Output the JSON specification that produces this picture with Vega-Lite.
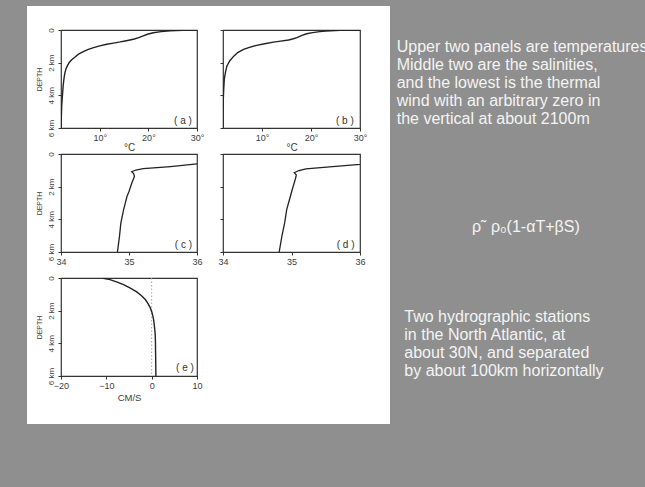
{
  "$schema": "https://vega.github.io/schema/vega-lite/v6.json",
  "background": "#ffffff",
  "padding": 0,
  "spacing": 0,
  "config": {
    "view": {"stroke": null},
    "font": "Liberation Sans",
    "concat": {"spacing": 0},
    "axis": {
      "grid": false, "domain": false, "ticks": true, "tickColor": "#333333", "tickSize": 3, "tickWidth": 1,
      "labelFont": "Liberation Sans", "labelColor": "#3c3c3c", "labelFontSize": 9, "labelPadding": 2,
      "labelFlush": false, "labelBound": false,
      "titleFont": "Liberation Sans", "titleFontWeight": "normal", "titleColor": "#3c3c3c"
    }
  },
  "datasets": {
    "profiles": [
      {"panel": "a", "value": 30, "depth": 0}, {"panel": "a", "value": 27, "depth": 0.015}, {"panel": "a", "value": 24.5, "depth": 0.05},
      {"panel": "a", "value": 22.6, "depth": 0.1}, {"panel": "a", "value": 21, "depth": 0.17}, {"panel": "a", "value": 19.8, "depth": 0.26},
      {"panel": "a", "value": 18.8, "depth": 0.37}, {"panel": "a", "value": 18, "depth": 0.47}, {"panel": "a", "value": 17.1, "depth": 0.55},
      {"panel": "a", "value": 16.2, "depth": 0.61}, {"panel": "a", "value": 15.2, "depth": 0.67}, {"panel": "a", "value": 14.2, "depth": 0.73},
      {"panel": "a", "value": 12.8, "depth": 0.8}, {"panel": "a", "value": 11.4, "depth": 0.87}, {"panel": "a", "value": 10, "depth": 0.97},
      {"panel": "a", "value": 8.7, "depth": 1.08}, {"panel": "a", "value": 7.5, "depth": 1.2}, {"panel": "a", "value": 6.6, "depth": 1.32},
      {"panel": "a", "value": 5.6, "depth": 1.48}, {"panel": "a", "value": 4.9, "depth": 1.65}, {"panel": "a", "value": 4.2, "depth": 1.82},
      {"panel": "a", "value": 3.7, "depth": 1.99}, {"panel": "a", "value": 3.3, "depth": 2.2}, {"panel": "a", "value": 3, "depth": 2.4},
      {"panel": "a", "value": 2.75, "depth": 2.7}, {"panel": "a", "value": 2.6, "depth": 3}, {"panel": "a", "value": 2.45, "depth": 3.4},
      {"panel": "a", "value": 2.35, "depth": 3.8}, {"panel": "a", "value": 2.25, "depth": 4.2}, {"panel": "a", "value": 2.15, "depth": 4.6},
      {"panel": "a", "value": 2.07, "depth": 5.3}, {"panel": "a", "value": 2, "depth": 6},
      {"panel": "b", "value": 30, "depth": 0}, {"panel": "b", "value": 26, "depth": 0.02}, {"panel": "b", "value": 23, "depth": 0.06},
      {"panel": "b", "value": 21.8, "depth": 0.1}, {"panel": "b", "value": 20.3, "depth": 0.16}, {"panel": "b", "value": 19.1, "depth": 0.23},
      {"panel": "b", "value": 18, "depth": 0.35}, {"panel": "b", "value": 17.1, "depth": 0.47}, {"panel": "b", "value": 16.2, "depth": 0.55},
      {"panel": "b", "value": 15.4, "depth": 0.61}, {"panel": "b", "value": 13.8, "depth": 0.68}, {"panel": "b", "value": 12.3, "depth": 0.74},
      {"panel": "b", "value": 10.5, "depth": 0.84}, {"panel": "b", "value": 8.9, "depth": 0.94}, {"panel": "b", "value": 7.4, "depth": 1.06},
      {"panel": "b", "value": 6.2, "depth": 1.19}, {"panel": "b", "value": 5, "depth": 1.38}, {"panel": "b", "value": 4.2, "depth": 1.6},
      {"panel": "b", "value": 3.4, "depth": 1.88}, {"panel": "b", "value": 2.8, "depth": 2.2}, {"panel": "b", "value": 2.5, "depth": 2.6},
      {"panel": "b", "value": 2.27, "depth": 3}, {"panel": "b", "value": 2.15, "depth": 3.6}, {"panel": "b", "value": 2.05, "depth": 4.3},
      {"panel": "b", "value": 2, "depth": 5}, {"panel": "b", "value": 1.98, "depth": 6},
      {"panel": "c", "value": 36.27, "depth": 0.5}, {"panel": "c", "value": 36, "depth": 0.61}, {"panel": "c", "value": 35.61, "depth": 0.77},
      {"panel": "c", "value": 35.21, "depth": 0.9}, {"panel": "c", "value": 35.1, "depth": 0.98}, {"panel": "c", "value": 35.04, "depth": 1.08},
      {"panel": "c", "value": 35.07, "depth": 1.22}, {"panel": "c", "value": 35.08, "depth": 1.38}, {"panel": "c", "value": 35.04, "depth": 1.79},
      {"panel": "c", "value": 35, "depth": 2.3}, {"panel": "c", "value": 34.97, "depth": 2.6}, {"panel": "c", "value": 34.92, "depth": 3.42},
      {"panel": "c", "value": 34.88, "depth": 4.23}, {"panel": "c", "value": 34.86, "depth": 5.04}, {"panel": "c", "value": 34.83, "depth": 6},
      {"panel": "d", "value": 36.27, "depth": 0.5}, {"panel": "d", "value": 36, "depth": 0.63}, {"panel": "d", "value": 35.6, "depth": 0.77},
      {"panel": "d", "value": 35.21, "depth": 0.91}, {"panel": "d", "value": 35.11, "depth": 1.01}, {"panel": "d", "value": 35.04, "depth": 1.14},
      {"panel": "d", "value": 35.07, "depth": 1.28}, {"panel": "d", "value": 35.06, "depth": 1.48}, {"panel": "d", "value": 35.01, "depth": 2.19},
      {"panel": "d", "value": 34.97, "depth": 2.8}, {"panel": "d", "value": 34.93, "depth": 3.41}, {"panel": "d", "value": 34.9, "depth": 4.22},
      {"panel": "d", "value": 34.86, "depth": 5.03}, {"panel": "d", "value": 34.82, "depth": 6},
      {"panel": "e", "value": -11, "depth": 0}, {"panel": "e", "value": -9.2, "depth": 0.1}, {"panel": "e", "value": -7.6, "depth": 0.25},
      {"panel": "e", "value": -6.2, "depth": 0.41}, {"panel": "e", "value": -4.7, "depth": 0.62}, {"panel": "e", "value": -3.3, "depth": 0.85},
      {"panel": "e", "value": -2.3, "depth": 1.07}, {"panel": "e", "value": -1.4, "depth": 1.32}, {"panel": "e", "value": -0.8, "depth": 1.57},
      {"panel": "e", "value": -0.3, "depth": 1.83}, {"panel": "e", "value": 0.05, "depth": 2.1}, {"panel": "e", "value": 0.27, "depth": 2.33},
      {"panel": "e", "value": 0.45, "depth": 2.6}, {"panel": "e", "value": 0.56, "depth": 2.84}, {"panel": "e", "value": 0.7, "depth": 3.2},
      {"panel": "e", "value": 0.78, "depth": 3.45}, {"panel": "e", "value": 0.84, "depth": 4}, {"panel": "e", "value": 0.86, "depth": 4.46},
      {"panel": "e", "value": 0.9, "depth": 5.2}, {"panel": "e", "value": 0.93, "depth": 6}
    ],
    "labels": [
      {"panel": "a", "label": "( a )"}, {"panel": "b", "label": "( b )"}, {"panel": "c", "label": "( c )"},
      {"panel": "d", "label": "( d )"}, {"panel": "e", "label": "( e )"}
    ],
    "notes": [
      {"block": 1, "line": 0, "text": "Upper two panels are temperatures"},
      {"block": 1, "line": 1, "text": "Middle two are the salinities,"},
      {"block": 1, "line": 2, "text": "and the lowest is the thermal"},
      {"block": 1, "line": 3, "text": "wind with an arbitrary zero in"},
      {"block": 1, "line": 4, "text": "the vertical at about 2100m"},
      {"block": 2, "line": 10, "text": "ρ˜ ρ₀(1-αT+βS)"},
      {"block": 3, "line": 15, "text": "Two hydrographic stations"},
      {"block": 3, "line": 16, "text": "in the North Atlantic, at"},
      {"block": 3, "line": 17, "text": "about 30N, and separated"},
      {"block": 3, "line": 18, "text": "by about 100km horizontally"}
    ]
  },
  "hconcat": [
    {"width": 27, "height": 487, "data": {"values": []}, "mark": "point", "view": {"fill": "#8f8f8f", "stroke": null}},
    {
      "spacing": 21,
      "vconcat": [
        {"width": 363, "height": 6, "data": {"values": []}, "mark": "point", "view": {"fill": "#8f8f8f", "stroke": null}},
        {
          "spacing": 6,
          "hconcat": [
            {"width": 1, "height": 1, "data": {"values": []}, "mark": "point", "view": {"fill": "#ffffff", "stroke": null}},
            {
              "columns": 2,
              "spacing": 26,
              "bounds": "flush",
              "concat": [
                {
                  "width": 136, "height": 98,
                  "view": {"stroke": "#333333", "strokeWidth": 1.2},
                  "layer": [
                    {
                      "data": {"name": "profiles"},
                      "transform": [{"filter": "datum.panel === 'a'"}],
                      "mark": {"type": "line", "color": "#222222", "strokeWidth": 1.4, "clip": true},
                      "encoding": {
                        "x": {"field": "value", "type": "quantitative", "scale": {"domain": [2, 30], "nice": false, "zero": false},
                              "axis": {"values": [10, 20, 30], "labelExpr": "datum.value + '°'", "title": "°C", "titleFontSize": 10, "titlePadding": 0}},
                        "y": {"field": "depth", "type": "quantitative", "scale": {"domain": [0, 6], "reverse": true, "nice": false, "zero": false},
                              "axis": {"tickCount": 3, "labelExpr": "datum.value == 0 ? '0' : datum.value + ' km'", "labelAngle": 270, "labelFontSize": 8, "labelPadding": 3, "title": "DEPTH", "titleFontSize": 7, "titlePadding": 5}},
                        "order": {"field": "depth", "type": "quantitative"}
                      }
                    },
                    {
                      "data": {"name": "labels"},
                      "transform": [{"filter": "datum.panel === 'a'"}],
                      "mark": {"type": "text", "fontSize": 10, "color": "#333333"},
                      "encoding": {"x": {"datum": 27.1}, "y": {"datum": 5.6}, "text": {"field": "label"}}
                    }
                  ]
                },
                {
                  "width": 137, "height": 98,
                  "view": {"stroke": "#333333", "strokeWidth": 1.2},
                  "layer": [
                    {
                      "data": {"name": "profiles"},
                      "transform": [{"filter": "datum.panel === 'b'"}],
                      "mark": {"type": "line", "color": "#222222", "strokeWidth": 1.4, "clip": true},
                      "encoding": {
                        "x": {"field": "value", "type": "quantitative", "scale": {"domain": [2, 30], "nice": false, "zero": false},
                              "axis": {"values": [10, 20, 30], "labelExpr": "datum.value + '°'", "title": "°C", "titleFontSize": 10, "titlePadding": 0}},
                        "y": {"field": "depth", "type": "quantitative", "scale": {"domain": [0, 6], "reverse": true, "nice": false, "zero": false},
                              "axis": {"tickCount": 3, "labels": false, "title": null}},
                        "order": {"field": "depth", "type": "quantitative"}
                      }
                    },
                    {
                      "data": {"name": "labels"},
                      "transform": [{"filter": "datum.panel === 'b'"}],
                      "mark": {"type": "text", "fontSize": 10, "color": "#333333"},
                      "encoding": {"x": {"datum": 26.9}, "y": {"datum": 5.6}, "text": {"field": "label"}}
                    }
                  ]
                },
                {
                  "width": 136, "height": 98,
                  "view": {"stroke": "#333333", "strokeWidth": 1.2},
                  "layer": [
                    {
                      "data": {"name": "profiles"},
                      "transform": [{"filter": "datum.panel === 'c'"}],
                      "mark": {"type": "line", "color": "#222222", "strokeWidth": 1.3, "clip": true},
                      "encoding": {
                        "x": {"field": "value", "type": "quantitative", "scale": {"domain": [34, 36], "nice": false, "zero": false},
                              "axis": {"values": [34, 34.5, 35, 35.5, 36], "labelExpr": "datum.value % 1 === 0 ? format(datum.value, 'd') : ''", "title": null}},
                        "y": {"field": "depth", "type": "quantitative", "scale": {"domain": [0, 6], "reverse": true, "nice": false, "zero": false},
                              "axis": {"tickCount": 3, "labelExpr": "datum.value == 0 ? '0' : datum.value + ' km'", "labelAngle": 270, "labelFontSize": 8, "labelPadding": 3, "title": "DEPTH", "titleFontSize": 7, "titlePadding": 5}},
                        "order": {"field": "depth", "type": "quantitative"}
                      }
                    },
                    {
                      "data": {"name": "labels"},
                      "transform": [{"filter": "datum.panel === 'c'"}],
                      "mark": {"type": "text", "fontSize": 10, "color": "#333333"},
                      "encoding": {"x": {"datum": 35.8}, "y": {"datum": 5.6}, "text": {"field": "label"}}
                    }
                  ]
                },
                {
                  "width": 137, "height": 98,
                  "view": {"stroke": "#333333", "strokeWidth": 1.2},
                  "layer": [
                    {
                      "data": {"name": "profiles"},
                      "transform": [{"filter": "datum.panel === 'd'"}],
                      "mark": {"type": "line", "color": "#222222", "strokeWidth": 1.3, "clip": true},
                      "encoding": {
                        "x": {"field": "value", "type": "quantitative", "scale": {"domain": [34, 36], "nice": false, "zero": false},
                              "axis": {"values": [34, 34.5, 35, 35.5, 36], "labelExpr": "datum.value % 1 === 0 ? format(datum.value, 'd') : ''", "title": null}},
                        "y": {"field": "depth", "type": "quantitative", "scale": {"domain": [0, 6], "reverse": true, "nice": false, "zero": false},
                              "axis": {"tickCount": 3, "labels": false, "title": null}},
                        "order": {"field": "depth", "type": "quantitative"}
                      }
                    },
                    {
                      "data": {"name": "labels"},
                      "transform": [{"filter": "datum.panel === 'd'"}],
                      "mark": {"type": "text", "fontSize": 10, "color": "#333333"},
                      "encoding": {"x": {"datum": 35.79}, "y": {"datum": 5.6}, "text": {"field": "label"}}
                    }
                  ]
                },
                {
                  "width": 136, "height": 98,
                  "view": {"stroke": "#333333", "strokeWidth": 1.2},
                  "layer": [
                    {
                      "data": {"values": [{"zero": 0}]},
                      "mark": {"type": "rule", "color": "#a8a8a8", "strokeDash": [1.5, 2], "strokeWidth": 1},
                      "encoding": {"x": {"field": "zero", "type": "quantitative"}}
                    },
                    {
                      "data": {"name": "profiles"},
                      "transform": [{"filter": "datum.panel === 'e'"}],
                      "mark": {"type": "line", "color": "#222222", "strokeWidth": 1.4, "clip": true},
                      "encoding": {
                        "x": {"field": "value", "type": "quantitative", "scale": {"domain": [-20, 10], "nice": false, "zero": false},
                              "axis": {"values": [-20, -10, 0, 10], "title": "CM/S", "titleFontSize": 9.5, "titlePadding": 2}},
                        "y": {"field": "depth", "type": "quantitative", "scale": {"domain": [0, 6], "reverse": true, "nice": false, "zero": false},
                              "axis": {"tickCount": 3, "labelExpr": "datum.value == 0 ? '0' : datum.value + ' km'", "labelAngle": 270, "labelFontSize": 8, "labelPadding": 3, "title": "DEPTH", "titleFontSize": 7, "titlePadding": 5}},
                        "order": {"field": "depth", "type": "quantitative"}
                      }
                    },
                    {
                      "data": {"name": "labels"},
                      "transform": [{"filter": "datum.panel === 'e'"}],
                      "mark": {"type": "text", "fontSize": 10, "color": "#333333"},
                      "encoding": {"x": {"datum": 7.35}, "y": {"datum": 5.5}, "text": {"field": "label"}}
                    }
                  ]
                }
              ]
            }
          ]
        },
        {"width": 363, "height": 65, "data": {"values": []}, "mark": "point", "view": {"fill": "#8f8f8f", "stroke": null}}
      ]
    },
    {
      "width": 255, "height": 487,
      "view": {"fill": "#8f8f8f", "stroke": null},
      "data": {"name": "notes"},
      "encoding": {
        "y": {"field": "line", "type": "quantitative", "scale": {"domain": [-2.872, 24.183], "reverse": true, "nice": false, "zero": false}, "axis": null},
        "text": {"field": "text"}
      },
      "layer": [
        {
          "transform": [{"filter": "datum.block === 1"}],
          "mark": {"type": "text", "align": "left", "baseline": "alphabetic", "font": "Liberation Sans", "fontSize": 16, "color": "#f4f4f4"},
          "encoding": {"x": {"datum": 6.7, "scale": {"domain": [0, 255], "nice": false, "zero": false}, "axis": null}}
        },
        {
          "transform": [{"filter": "datum.block === 2"}],
          "mark": {"type": "text", "align": "left", "baseline": "alphabetic", "font": "Liberation Sans", "fontSize": 16, "color": "#f4f4f4"},
          "encoding": {"x": {"datum": 82}}
        },
        {
          "transform": [{"filter": "datum.block === 3"}],
          "mark": {"type": "text", "align": "left", "baseline": "alphabetic", "font": "Liberation Sans", "fontSize": 16, "color": "#f4f4f4"},
          "encoding": {"x": {"datum": 14.3}}
        }
      ]
    }
  ]
}
